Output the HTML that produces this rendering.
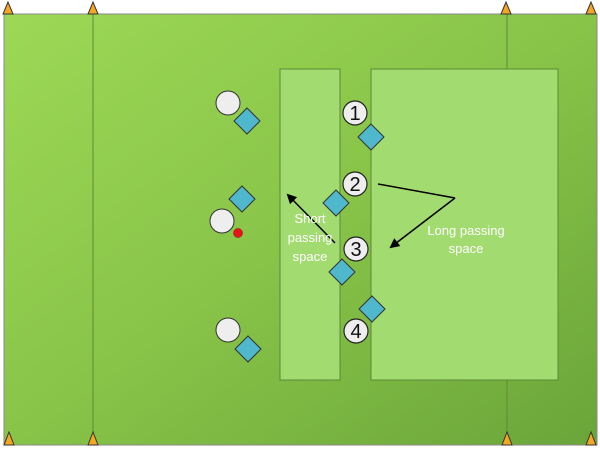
<!DOCTYPE html>
<html><head><style>body{margin:0;background:#fff}</style></head><body>
<svg width="600" height="449" xmlns="http://www.w3.org/2000/svg" font-family="Liberation Sans, sans-serif">
<defs>
<linearGradient id="g" x1="0" y1="0" x2="1" y2="1"><stop offset="0" stop-color="#9dd856"/><stop offset="0.5" stop-color="#88c448"/><stop offset="1" stop-color="#6aa53a"/></linearGradient>
<marker id="ah" markerWidth="10" markerHeight="10" refX="8" refY="5" orient="auto" markerUnits="userSpaceOnUse"><path d="M0,0 L10,5 L0,10 z" fill="#000"/></marker>
</defs>
<rect x="4" y="14" width="593" height="431" fill="url(#g)" stroke="#888" stroke-width="1"/>
<line x1="93" y1="14" x2="93" y2="445" stroke="#5c8c35" stroke-width="1"/>
<line x1="507" y1="14" x2="507" y2="445" stroke="#5c8c35" stroke-width="1"/>
<rect x="280" y="69" width="60" height="311" fill="#a2db70" stroke="#5a8a36"/>
<rect x="371" y="69" width="187" height="311" fill="#a2db70" stroke="#5a8a36"/>
<line x1="340" y1="69" x2="340" y2="380" stroke="#5a8a36"/>
<g fill="#f5a623" stroke="#333" stroke-width="1">
<path d="M8,2 L3,14 L13,14z"/><path d="M93,2 L88,14 L98,14z"/><path d="M506,2 L501,14 L511,14z"/><path d="M591,2 L586,14 L596,14z"/>
<path d="M9,432 L4,445 L14,445z"/><path d="M93,432 L88,445 L98,445z"/><path d="M507,432 L502,445 L512,445z"/><path d="M591,432 L586,445 L596,445z"/>
</g>
<g fill="#eeeeee" stroke="#333" stroke-width="1">
<circle cx="228" cy="103" r="12"/><circle cx="222" cy="221" r="12"/><circle cx="228" cy="330" r="12"/>
</g>
<circle cx="238" cy="233" r="4.5" fill="#e8141c" stroke="#900" stroke-width="0.5"/>
<g fill="#4fb8cc" stroke="#333" stroke-width="1">
<path d="M247,108 L260,121 L247,134 L234,121z"/>
<path d="M242,186 L255,199 L242,212 L229,199z"/>
<path d="M248,336 L261,349 L248,362 L235,349z"/>
<path d="M371,124 L384,137 L371,150 L358,137z"/>
<path d="M336,190 L349,203 L336,216 L323,203z"/>
<path d="M342,259 L355,272 L342,285 L329,272z"/>
<path d="M372,296 L385,309 L372,322 L359,309z"/>
</g>
<g fill="#eeeeee" stroke="#222" stroke-width="1.2">
<circle cx="355" cy="113" r="12"/><circle cx="355" cy="184" r="12"/><circle cx="356" cy="249" r="12"/><circle cx="356" cy="331" r="12"/>
</g>
<g font-size="20" text-anchor="middle" fill="#111">
<text x="355" y="120">1</text><text x="355" y="191">2</text><text x="356" y="256">3</text><text x="356" y="338">4</text>
</g>
<line x1="335" y1="243" x2="288" y2="195" stroke="#000" stroke-width="1.5" marker-end="url(#ah)"/>
<polyline points="378,184 455,198" fill="none" stroke="#000" stroke-width="1.5"/>
<line x1="455" y1="198" x2="391" y2="247" stroke="#000" stroke-width="1.5" marker-end="url(#ah)"/>
<g fill="#fff" font-size="13" text-anchor="middle">
<text x="310" y="223">Short</text><text x="310" y="242">passing</text><text x="310" y="261">space</text>
<text x="466" y="235">Long passing</text><text x="466" y="253">space</text>
</g>
</svg>
</body></html>
